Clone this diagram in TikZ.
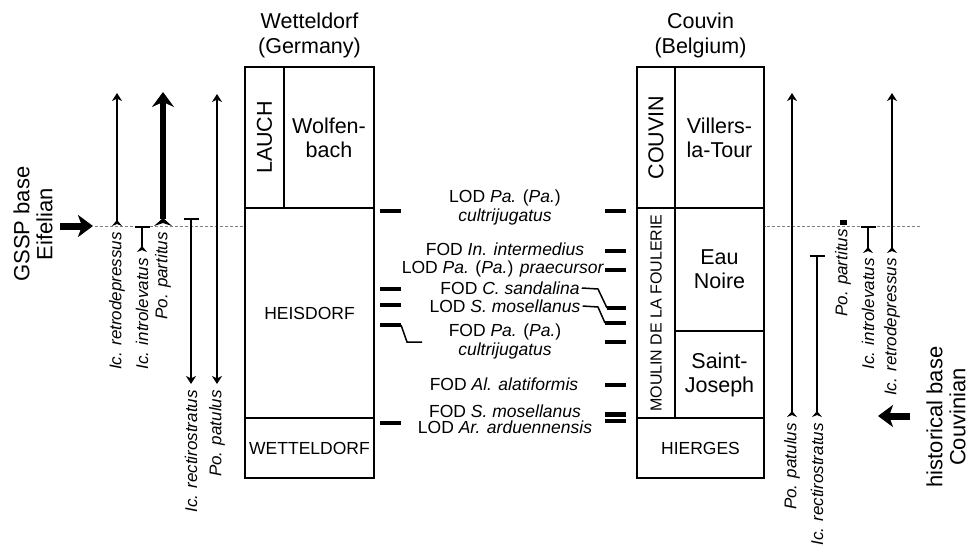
\documentclass[tikz,border=0pt]{standalone}
\usepackage{fontspec}
\setmainfont{Liberation Sans}
\usetikzlibrary{arrows.meta}

\begin{document}
\begin{tikzpicture}[
    x=1pt, y=-1pt,
    unit/.style={draw, line width=1.6pt, inner sep=0pt, align=center, font=\fontsize{21.5}{24}\selectfont},
    unitcap/.style={unit, font=\fontsize{17.5}{20}\selectfont},
    title/.style={align=center, inner sep=0pt, font=\fontsize{21.5}{25}\selectfont},
    odlbl/.style={align=center, inner sep=0pt, font=\fontsize{17.5}{19}\selectfont},
    taxon/.style={rotate=90, anchor=east, inner sep=0pt, font=\fontsize{17}{19}\selectfont\itshape},
    rng/.style={line width=2.4pt},
    rngup/.style={rng, {Stealth[reversed,length=6pt,width=10pt,inset=2pt]}-{Stealth[length=8pt,width=10pt,inset=2.5pt]}},
    rngbar/.style={rng, {Bar[width=15pt]}-{Stealth[reversed,length=6pt,width=10pt,inset=2pt]}},
    rngdown/.style={rng, {Bar[width=15pt]}-{Stealth[length=8pt,width=10pt,inset=2.5pt]}},
    rngboth/.style={rng, {Stealth[length=8pt,width=10pt,inset=2.5pt]}-{Stealth[length=8pt,width=10pt,inset=2.5pt]}},
    thickrng/.style={line width=6pt, {Stealth[reversed,length=8pt,width=18pt,inset=3pt]}-{Stealth[length=15pt,width=22pt,inset=5pt]}},
    odbar/.style={line width=4.5pt},
    odlink/.style={line width=1.5pt},
    basedash/.style={densely dashed, gray, line width=0.9pt},
    blockarr/.style={line width=7pt, -{Stealth[length=15pt,width=22pt,inset=4pt]}},
    basetxt/.style={rotate=90, align=center, inner sep=0pt, font=\fontsize{22}{23}\selectfont}
  ]
  \useasboundingbox (0,0) rectangle (969,546);

  % Wetteldorf section
  \node[title] (wtit) at (309.5,35) {Wetteldorf\\(Germany)};
  \node[unit, rotate=90, minimum width=141pt, minimum height=39pt] (lauch) at (264.5,137.5) {LAUCH};
  \node[unit, minimum width=90pt, minimum height=141pt] (wolf) at (329,137.5) {Wolfen-\\bach};
  \node[unitcap, minimum width=129pt, minimum height=210pt] (heis) at (309.5,313) {HEISDORF};
  \node[unitcap, minimum width=129pt, minimum height=60pt] (wett) at (309.5,448) {WETTELDORF};

  % Couvin section
  \node[title] (ctit) at (700.5,35) {Couvin\\(Belgium)};
  \node[unit, rotate=90, minimum width=141pt, minimum height=38pt] (couv) at (656,137.5) {COUVIN};
  \node[unit, minimum width=89pt, minimum height=141pt] (vill) at (719.5,137.5) {Villers-\\la-Tour};
  \node[unitcap, rotate=90, minimum width=210pt, minimum height=38pt, font=\fontsize{16}{18}\selectfont] (moul) at (656,313) {MOULIN DE LA FOULERIE};
  \node[unit, minimum width=89pt, minimum height=123pt] (eau) at (719.5,269.5) {Eau\\Noire};
  \node[unit, minimum width=89pt, minimum height=87pt] (stj) at (719.5,374.5) {Saint-\\Joseph};
  \node[unitcap, minimum width=127pt, minimum height=60pt] (hier) at (700.5,448) {HIERGES};

  % base of the Eifelian
  \coordinate (gl) at (95,226);
  \coordinate (gr) at (920,226);
  \draw[basedash] (gl) -- (gl -| heis.west);
  \draw[basedash] (gr) -- (gr -| eau.east);
  \node[basetxt] (gssp) at (33,224) {GSSP base\\Eifelian};
  \coordinate (gsspa) at (60,226);
  \coordinate (gsspb) at (93,226);
  \draw[blockarr] (gsspa) -- (gsspb);
  \node[basetxt] (hist) at (946,417) {historical base\\Couvinian};
  \coordinate (hista) at (910,416);
  \coordinate (histb) at (878,416);
  \draw[blockarr] (hista) -- (histb);

  % ranges, Wetteldorf
  \draw[rngup] (117,226) coordinate (lret-b) -- (117,93) coordinate (lret-t);
  \draw[rngbar] (142,226) coordinate (lint-t) -- (142,252) coordinate (lint-b);
  \draw[thickrng] (163,226) coordinate (lpar-b) -- (163,92) coordinate (lpar-t);
  \draw[rngdown] (191,218) coordinate (lrec-t) -- (191,384) coordinate (lrec-b);
  \draw[rngboth] (217,384) coordinate (lpat-b) -- (217,94) coordinate (lpat-t);
  \node[taxon] (lret) at (117,232) {Ic. retrodepressus};
  \node[taxon] (lint) at (142,258) {Ic. introlevatus};
  \node[taxon] (lpar) at (163,232) {Po. partitus};
  \node[taxon] (lrec) at (191,390) {Ic. rectirostratus};
  \node[taxon] (lpat) at (217,390) {Po. patulus};

  % ranges, Couvin
  \draw[rngup] (792,417) coordinate (rpat-b) -- (792,93) coordinate (rpat-t);
  \draw[rngbar] (817,255) coordinate (rrec-t) -- (817,417) coordinate (rrec-b);
  \node[fill, inner sep=0pt, minimum width=7pt, minimum height=5pt] (rpar-sq) at (843,222) {};
  \draw[rngbar] (868,226) coordinate (rint-t) -- (868,253) coordinate (rint-b);
  \draw[rngup] (892,253) coordinate (rret-b) -- (892,93) coordinate (rret-t);
  \node[taxon] (rpat) at (792,423) {Po. patulus};
  \node[taxon] (rrec) at (817,423) {Ic. rectirostratus};
  \node[taxon] (rpar) at (843,229) {Po. partitus};
  \node[taxon] (rint) at (868,258) {Ic. introlevatus};
  \node[taxon] (rret) at (892,258) {Ic. retrodepressus};

  % bioevents
  \node[odlbl] (lodcul) at (505,207.5) {LOD \textit{Pa.} (\textit{Pa.})\\\textit{cultrijugatus}};
  \node[odlbl] (fodint) at (505,249) {FOD \textit{In. intermedius}};
  \node[odlbl] (lodpra) at (503,269) {LOD \textit{Pa.} (\textit{Pa.}) \textit{praecursor}};
  \node[odlbl] (fodsan) at (510,288) {FOD \textit{C. sandalina}};
  \node[odlbl] (lodmos) at (505,306) {LOD \textit{S. mosellanus}};
  \node[odlbl] (fodcul) at (505,341) {FOD \textit{Pa.} (\textit{Pa.})\\\textit{cultrijugatus}};
  \node[odlbl] (fodala) at (504,384) {FOD \textit{Al. alatiformis}};
  \node[odlbl] (fodmos) at (505,411) {FOD \textit{S. mosellanus}};
  \node[odlbl] (lodard) at (505,427) {LOD \textit{Ar. arduennensis}};

  % levels in Wetteldorf
  \foreach \y in {211,289,305,325,423}
    \draw[odbar] (380,\y) -- (401,\y);
  \draw[odlink] (401,325) -- (407,342) -- (422,342);

  % levels in Couvin
  \foreach \y in {211,251,270,342,385,414.5,421}
    \draw[odbar] (605,\y) -- (626,\y);
  \draw[odbar] (607,308) -- (626,308);
  \draw[odbar] (605,323) -- (626,323);
  \draw[odlink] ([xshift=2pt]fodsan.east) -- (598,289) -- (607,308);
  \draw[odlink] ([xshift=2pt]lodmos.east) -- (598,307) -- (605,323);
\end{tikzpicture}
\end{document}
